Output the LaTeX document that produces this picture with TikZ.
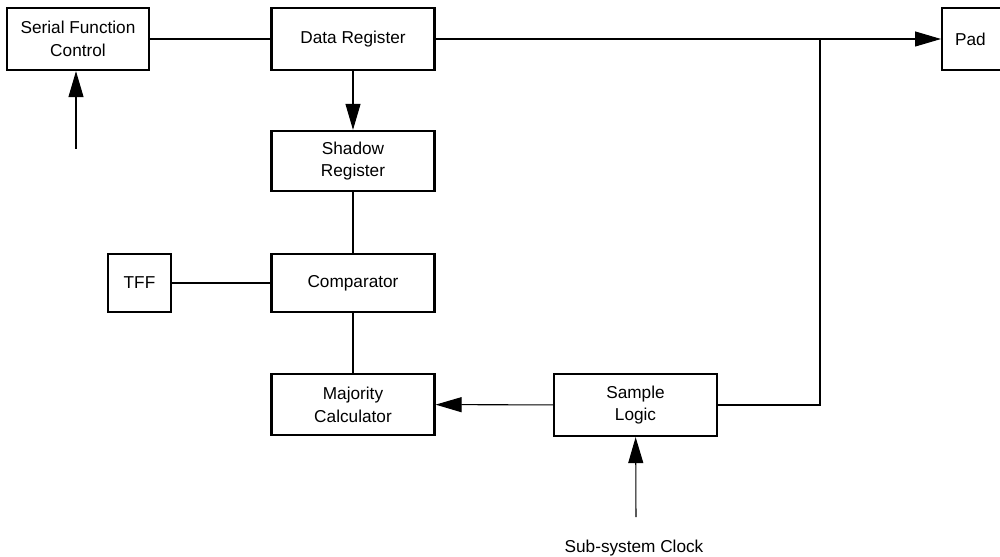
\documentclass[tikz,border=0pt]{standalone}
\usepackage{fontspec}
\setmainfont{Liberation Sans}
\usetikzlibrary{arrows.meta}

\tikzset{
  blk/.style={rectangle,draw,line width=1.3pt,minimum width=3.26cm,minimum height=1.22cm,
              align=center,inner sep=2pt},
  wire/.style={line width=0.6pt},
  sig/.style={wire,-{Triangle[length=0.52cm,width=0.3cm]}}
}

\begin{document}
\begin{tikzpicture}[x=0.02cm,y=-0.02cm,font=\fontsize{9.8pt}{13pt}\selectfont]
        \clip (0,0) rectangle (1000,557);
        \node[blk,minimum width=2.84cm,minimum height=1.24cm] (sfc) at (78,39) {Serial Function\\Control};
        \node[blk,minimum height=1.24cm] (data) at (353,39) {Data Register};
        \node[blk,minimum height=1.2cm] (shadow) at (353,161) {Shadow\\Register};
        \node[blk,minimum height=1.16cm] (comp) at (353,283) {Comparator};
        \node[blk,minimum width=1.26cm,minimum height=1.16cm] (tff) at (139.5,283) {TFF};
        \node[blk] (maj) at (353,404.5) {Majority\\Calculator};
        \node[blk,minimum height=1.24cm] (sample) at (635.5,405) {Sample\\Logic};
        \node[blk,minimum width=0pt,minimum height=1.24cm,text width=1.2cm,align=left,inner xsep=0.26cm,anchor=west] (pad) at (941,39) {Pad};
        \coordinate (sfcin) at (76,149);
        \coordinate (jn) at (820,39);
        \coordinate (clk) at (636,517);
        \node (clklabel) at (634,548) {Sub-system Clock};

        \draw[wire] (sfc) -- (data);
        \draw[sig] (data) -- (pad);
        \draw[wire] (sample) -| (jn);
        \draw[sig] (sfcin) -- (sfcin |- sfc.south);
        \draw[sig] (data) -- (shadow);
        \draw[wire] (shadow) -- (comp);
        \draw[wire] (comp) -- (maj);
        \draw[line width=1.3pt] (tff) -- (comp);
        \draw[sig] (sample) -- (maj);
        \draw[sig] (clk) -- (sample);
\end{tikzpicture}
\end{document}
